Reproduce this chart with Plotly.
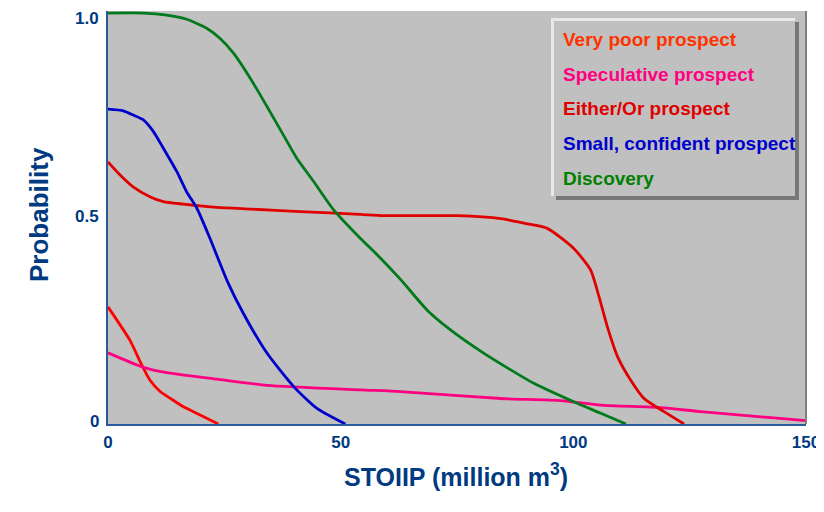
import plotly.graph_objects as go

# ---- data ----
very_poor_x = [0, 4.7, 6.9, 9.0, 11.2, 13.3, 16.2, 19.8, 23.7]
very_poor_y = [0.285, 0.204, 0.152, 0.107, 0.079, 0.063, 0.042, 0.022, 0.0]

speculative_x = [0, 7.6, 12.6, 23.4, 34.2, 54.2, 62.8, 84.4, 97.3, 105.9, 118.8, 127.4, 150]
speculative_y = [0.173, 0.138, 0.125, 0.109, 0.094, 0.083, 0.079, 0.062, 0.057, 0.046, 0.040, 0.030, 0.008]

either_or_x = [0, 2.6, 5.4, 9.0, 11.9, 16.2, 23.4, 30.6, 41.3, 54.2, 59.2, 75.0, 84.4, 90.1,
               94.4, 100.1, 103.7, 105.9, 107.3, 109.5, 112.3, 115.2, 119.5, 123.8]
either_or_y = [0.638, 0.606, 0.577, 0.553, 0.541, 0.535, 0.527, 0.523, 0.517, 0.510, 0.507, 0.507, 0.500, 0.487,
               0.476, 0.427, 0.375, 0.294, 0.237, 0.164, 0.107, 0.062, 0.030, 0.0]

small_x = [0, 3.3, 5.4, 7.6, 9.8, 11.9, 14.8, 16.9, 19.1, 21.9, 25.7, 29.1, 34.2, 39.9, 44.9, 51.0]
small_y = [0.766, 0.762, 0.752, 0.740, 0.711, 0.671, 0.614, 0.565, 0.525, 0.452, 0.346, 0.269, 0.172, 0.091, 0.038, 0.0]

discovery_x = [0, 7.6, 12.6, 16.9, 21.2, 24.1, 27.0, 30.6, 34.2, 37.7, 40.6, 44.2, 48.5, 54.2,
               58.0, 63.0, 68.6, 73.6, 80.8, 91.5, 100.1, 105.9, 111.3]
discovery_y = [1.0, 1.0, 0.995, 0.985, 0.963, 0.938, 0.902, 0.841, 0.772, 0.703, 0.646, 0.590, 0.521, 0.452,
               0.410, 0.350, 0.277, 0.229, 0.172, 0.099, 0.054, 0.026, 0.0]

series_names = ["Very poor prospect", "Speculative prospect", "Either/Or prospect",
                "Small, confident prospect", "Discovery"]
line_colors = ["#FF0000", "#FF0080", "#E00000", "#0000CC", "#007A1A"]
label_colors = ["#FF3300", "#FF0080", "#E00000", "#0000CC", "#008000"]

x_ticks = [0, 50, 100, 150]
x_ticktext = ["0", "50", "100", "150"]
y_ticks = [0, 0.5, 1.0]
y_ticktext = ["0", "0.5", "1.0"]

series = [(very_poor_x, very_poor_y), (speculative_x, speculative_y), (either_or_x, either_or_y),
          (small_x, small_y), (discovery_x, discovery_y)]

NAVY = "#003A80"
FONT = "Liberation Sans, Arial, sans-serif"
fig = go.Figure()
for (xs, ys), name, col in zip(series, series_names, line_colors):
    fig.add_trace(go.Scatter(x=xs, y=ys, mode="lines", name=name,
                             line=dict(color=col, width=2.8, shape="spline", smoothing=0.6),
                             showlegend=False))

# the page body has an 8px margin, so the figure is 8px smaller and margins compensate
fig.update_layout(
    width=816, height=504,
    margin=dict(l=100, r=18, t=3, b=88),
    paper_bgcolor="white", plot_bgcolor="#C0C0C0",
    font=dict(family=FONT, color=NAVY),
    xaxis=dict(range=[0, 150], tickvals=x_ticks, ticktext=["<b>%s</b>" % t for t in x_ticktext],
               showgrid=False, zeroline=False, automargin=False,
               showline=True, linecolor="#2A5A9A", linewidth=2, ticks="",
               tickfont=dict(size=17, color=NAVY, family=FONT),
               ticklabelstandoff=2),
    yaxis=dict(range=[0, 1.005], tickvals=y_ticks, showticklabels=False,
               showgrid=False, zeroline=False, automargin=False,
               showline=True, linecolor="#2A5A9A", linewidth=2, ticks=""),
)

# y tick labels (drawn as annotations so the top one is not dropped at the page edge)
y_shifts = [3, 2, -5]
for v, t, s in zip(y_ticks, y_ticktext, y_shifts):
    fig.add_annotation(xref="paper", yref="y", x=0, y=v, xanchor="right", yanchor="middle",
                       xshift=-7, yshift=s, text="<b>%s</b>" % t, showarrow=False,
                       font=dict(size=17, color=NAVY, family=FONT))

# right border of the plot area
fig.add_shape(type="line", xref="paper", yref="paper", x0=1, x1=1, y0=0, y1=1,
              line=dict(color="#808080", width=2))

PW, PH = 698.0, 413.0
def px(x):
    return (x - 108) / PW
def py(y):
    return (424 - y) / PH

# legend box (shadow, then box with light top/left edge)
fig.add_shape(type="rect", xref="paper", yref="paper",
              x0=px(556), x1=px(799), y0=py(200), y1=py(22),
              line=dict(width=0), fillcolor="#777777", layer="above")
fig.add_shape(type="rect", xref="paper", yref="paper",
              x0=px(551), x1=px(795), y0=py(196), y1=py(18),
              line=dict(width=0), fillcolor="#E8E8E8", layer="above")
fig.add_shape(type="rect", xref="paper", yref="paper",
              x0=px(554), x1=px(795), y0=py(196), y1=py(21),
              line=dict(width=0), fillcolor="#C0C0C0", layer="above")

label_y = [40, 74, 108, 143, 178]
for name, col, ly in zip(series_names, label_colors, label_y):
    fig.add_annotation(xref="paper", yref="paper", x=px(561), y=py(ly),
                       text="<b>%s</b>" % name, showarrow=False, xanchor="left", yanchor="middle",
                       font=dict(size=19, color=col, family=FONT))

fig.add_annotation(xref="paper", yref="paper", x=px(22), y=py(215),
                   text="<b>Probability</b>", textangle=-90, showarrow=False,
                   font=dict(size=26, color=NAVY, family=FONT))
fig.add_annotation(xref="paper", yref="paper", x=px(456), y=py(493),
                   text="<b>STOIIP (million m<sup>3</sup>)</b>", showarrow=False,
                   font=dict(size=25, color=NAVY, family=FONT))

fig.write_html("out.html")
